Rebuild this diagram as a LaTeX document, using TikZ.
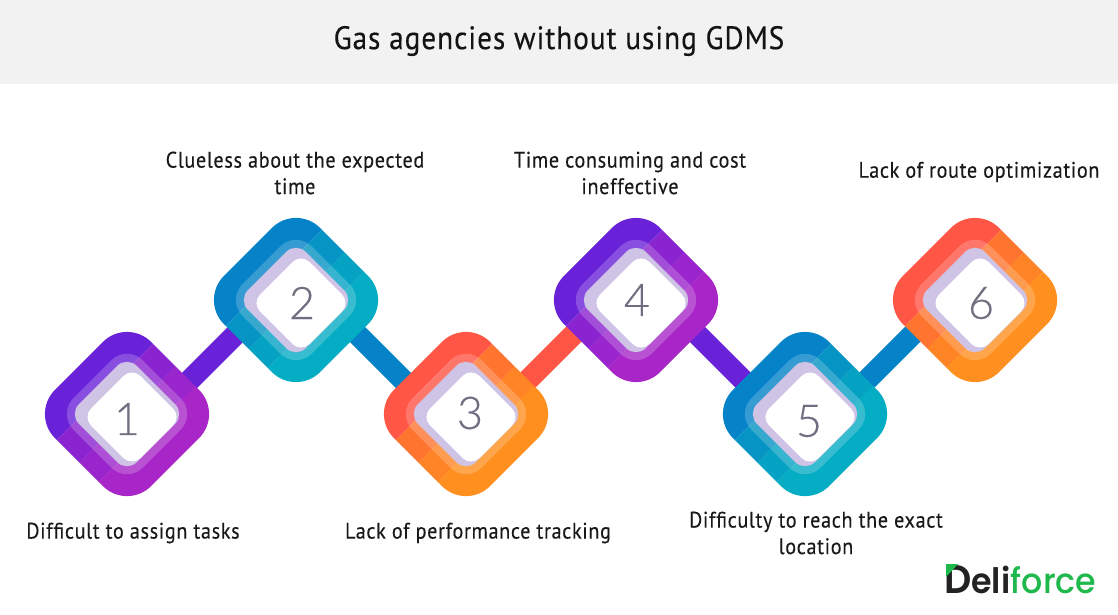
\documentclass[tikz,border=0pt]{standalone}
\usepackage{fontspec}
\setmainfont[FakeStretch=0.9,LetterSpace=3,FakeBold=0.25]{PT Sans}
\newfontfamily\digitfont[FakeBold=0.4]{Lato Light}
\newfontfamily\logofont[FakeStretch=0.95]{Poppins SemiBold}
\newfontfamily\logofontb[FakeStretch=0.95]{Poppins Medium}
\definecolor{purA}{HTML}{6A22D8}\definecolor{purB}{HTML}{8A24D0}\definecolor{purC}{HTML}{9A25CC}\definecolor{purD}{HTML}{A826C8}
\definecolor{bluA}{HTML}{0582C8}\definecolor{bluB}{HTML}{0594C4}\definecolor{bluC}{HTML}{05A2C4}\definecolor{bluD}{HTML}{05ADC4}
\definecolor{redA}{HTML}{FF5645}\definecolor{redB}{HTML}{FF7530}\definecolor{redC}{HTML}{FF8425}\definecolor{redD}{HTML}{FF9020}
\definecolor{lilac}{HTML}{CFC3E6}\definecolor{digitc}{HTML}{6E6E80}\definecolor{logogreen}{HTML}{1FB84C}\definecolor{logodark}{HTML}{222222}
\tikzset{
  link/.style={line width=21.5pt},
  lab/.style={font=\fontsize{22.4}{26.5}\selectfont,text=black!90,align=center,inner sep=0pt},
  digitlab/.style={font=\digitfont\fontsize{45}{45}\selectfont,text=digitc,inner sep=0pt},
}
% name, x, y(px), colour prefix, digit, digit dx, digit dy
\newcommand\stepdiamond[7]{%
  \begin{scope}[shift={(#2,-#3)},rotate=-45]
    \begin{scope}
      \clip[rounded corners=34pt] (-68,-68) rectangle (68,68);
      \fill[#4A] (-75,-75) rectangle (-31,75);
      \fill[#4B] (-31,-75) rectangle (1,75);
      \fill[#4C] (1,-75) rectangle (28,75);
      \fill[#4D] (28,-75) rectangle (75,75);
    \end{scope}
    \fill[white,opacity=.2,rounded corners=22pt] (-49,-49) rectangle (49,49);
    \fill[lilac,rounded corners=14pt] (-41,-41) rectangle (41,41);
  \end{scope}
  \begin{scope}[shift={(#2+5,-#3-3)},rotate=-45]
    \fill[white,rounded corners=12pt] (-35,-35) rectangle (35,35);
  \end{scope}
  \node[digitlab] (#1) at (#2+#6,-#3-#7) {#5};
}
\begin{document}
\begin{tikzpicture}[x=1pt,y=1pt]
\useasboundingbox (0,0) rectangle (1118,-615);
\fill[white] (0,0) rectangle (1118,-615);
\fill[black!5] (0,0) rectangle (1118,-84);
\node[font=\fontsize{32.5}{38}\selectfont,text=black!92,inner sep=0pt] (title) at (559,-41) {Gas agencies without using GDMS};
% connector ends
\coordinate (c1a) at (175,-395); \coordinate (c1b) at (255,-315);
\coordinate (c2a) at (335,-312); \coordinate (c2b) at (425,-402);
\coordinate (c3a) at (508,-400); \coordinate (c3b) at (598,-310);
\coordinate (c4a) at (675,-312); \coordinate (c4b) at (765,-402);
\coordinate (c5a) at (847,-400); \coordinate (c5b) at (937,-310);
\draw[link,purA] (c1a) -- (c1b);
\draw[link,bluA] (c2a) -- (c2b);
\draw[link,redA] (c3a) -- (c3b);
\draw[link,purA] (c4a) -- (c4b);
\draw[link,bluA] (c5a) -- (c5b);
\stepdiamond{d1}{127}{414}{pur}{1}{0}{5}
\stepdiamond{d2}{296}{300}{blu}{2}{6}{3}
\stepdiamond{d3}{466}{414}{red}{3}{4}{-1}
\stepdiamond{d4}{636}{300}{pur}{4}{1}{0}
\stepdiamond{d5}{805}{414}{blu}{5}{4}{7}
\stepdiamond{d6}{975}{300}{red}{6}{6}{3}
\node[lab] (t1) at (133,-533) {Difficult to assign tasks};
\node[lab] (t2) at (295,-173) {Clueless about the expected\\time};
\node[lab] (t3) at (478,-533) {Lack of performance tracking};
\node[lab] (t4) at (630,-173) {Time consuming and cost\\ineffective};
\node[lab] (t5) at (816,-533) {Difficulty to reach the exact\\location};
\node[lab] (t6) at (979,-172) {Lack of route optimization};
% logo
\node[anchor=base west,inner sep=0pt,font=\logofont\fontsize{35}{35}\selectfont,text=logodark] (logoa) at (944,-593) {{\fontsize{40}{40}\selectfont D}eli};
\node[anchor=base west,inner sep=0pt,font=\logofontb\fontsize{35}{35}\selectfont,text=logogreen] (logob) at (logoa.base east) {force};
\fill[logogreen] (946,-564) -- (958,-564) -- (946,-577) -- cycle;
\end{tikzpicture}
\end{document}
